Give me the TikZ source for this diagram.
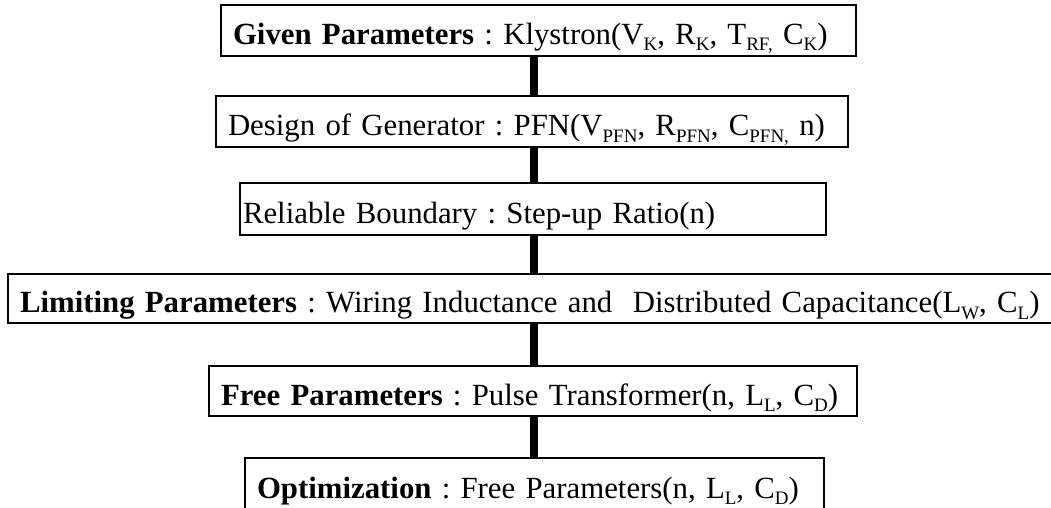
\documentclass[tikz,border=0pt]{standalone}
\usepackage{fontspec}
\setmainfont{Liberation Serif}
\frenchspacing
\newcommand\sbs[1]{\raisebox{-6.5pt}{\fontsize{19}{19}\selectfont #1}}
\begin{document}
\begin{tikzpicture}[x=1pt,y=-1pt,
  box/.style={draw, line width=1.4pt, anchor=north west, inner ysep=0pt, outer sep=0pt,
    align=left, text height=28pt, text depth=0pt, font=\fontsize{30.8}{36}\selectfont\frenchspacing},
  link/.style={line width=7.5pt}]
\useasboundingbox (0,0) rectangle (1051,508);
\coordinate (cx) at (534,0);
\node[box, inner xsep=12pt, text width=611pt, minimum height=51pt] (b1) at (221,5)
  {\mbox{\textbf{Given Parameters} : Klystron(V\sbs{K}, R\sbs{K}, T\sbs{RF,} C\sbs{K})}};
\node[box, inner xsep=12pt, text width=608pt, minimum height=51pt] (b2) at (216,96)
  {\mbox{Design of Generator : PFN(V\sbs{PFN}, R\sbs{PFN}, C\sbs{PFN,} n)}};
\node[box, inner xsep=3pt, text width=580pt, minimum height=52pt] (b3) at (240,183)
  {\mbox{Reliable Boundary : Step-up Ratio(n)}};
\node[box, inner xsep=12pt, text width=1021pt, minimum height=49pt] (b4) at (8,274)
  {\mbox{\textbf{Limiting Parameters} : Wiring Inductance and\ \ Distributed Capacitance(L\sbs{W}, C\sbs{L})}};
\node[box, inner xsep=12pt, text width=624pt, minimum height=50pt] (b5) at (209,366)
  {\mbox{\textbf{Free Parameters} : Pulse Transformer(n, L\sbs{L}, C\sbs{D})}};
\node[box, inner xsep=12pt, text width=555pt, minimum height=52pt] (b6) at (245,458)
  {\mbox{\textbf{Optimization} : Free Parameters(n, L\sbs{L}, C\sbs{D})}};
\draw[link] (b1.south -| cx) -- (b2.north -| cx);
\draw[link] (b2.south -| cx) -- (b3.north -| cx);
\draw[link] (b3.south -| cx) -- (b4.north -| cx);
\draw[link] (b4.south -| cx) -- (b5.north -| cx);
\draw[link] (b5.south -| cx) -- (b6.north -| cx);
\end{tikzpicture}
\end{document}
